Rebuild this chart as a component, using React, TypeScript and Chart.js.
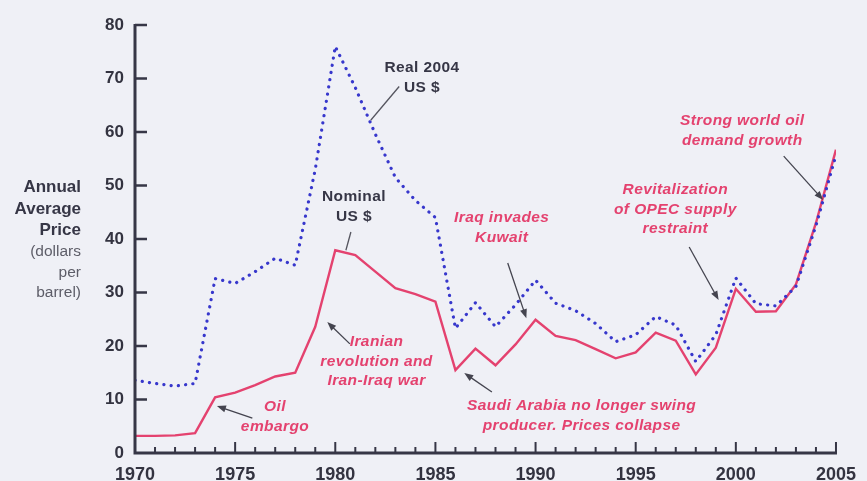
import React, { useEffect, useRef } from "react";
import { Chart, registerables } from "chart.js";

Chart.register(...registerables);

// ---------- data ----------
const years = [
  1970, 1971, 1972, 1973, 1974, 1975, 1976, 1977, 1978, 1979,
  1980, 1981, 1982, 1983, 1984, 1985, 1986, 1987, 1988, 1989,
  1990, 1991, 1992, 1993, 1994, 1995, 1996, 1997, 1998, 1999,
  2000, 2001, 2002, 2003, 2004, 2005,
];
const nominalPrice = [
  3.2, 3.2, 3.3, 3.7, 10.4, 11.3, 12.7, 14.3, 15.0, 23.6,
  37.9, 37.0, 33.9, 30.8, 29.7, 28.3, 15.5, 19.5, 16.4, 20.3,
  24.9, 21.9, 21.1, 19.4, 17.7, 18.8, 22.5, 21.0, 14.7, 19.7,
  30.7, 26.4, 26.5, 31.5, 43.0, 56.7,
];
const realPrice = [
  13.6, 13.0, 12.5, 13.0, 32.6, 31.7, 33.9, 36.4, 35.1, 53.0,
  76.0, 68.3, 59.6, 51.5, 47.2, 44.0, 23.3, 28.1, 23.6, 27.7,
  32.3, 28.0, 26.6, 24.2, 20.8, 22.1, 25.5, 23.9, 17.1, 22.1,
  32.7, 27.9, 27.5, 31.1, 42.5, 55.7,
];
const yTickValues = [0, 10, 20, 30, 40, 50, 60, 70, 80];
const xLabelYears = [1970, 1975, 1980, 1985, 1990, 1995, 2000, 2005];
const yTitleBold = ["Annual", "Average", "Price"];
const yTitleUnit = ["(dollars", "per", "barrel)"];

// ---------- style ----------
const PINK = "#e4426f";
const BLUE = "#3737cc";
const INK = "#363646";
const FAMILY = "'Liberation Sans', Arial, Helvetica, sans-serif";

type Note = {
  lines: string[];
  at: [number, number]; // (year, value) of first line centre
  color: string;
  bold: boolean;
  italic: boolean;
  leader?: [number, number, number, number]; // from (year,value) to (year,value)
  head?: boolean;
};

const notes: Note[] = [
  { lines: ["Real 2004", "US $"], at: [1984.33, 71.96], color: INK, bold: true, italic: false,
    leader: [1983.19, 68.5, 1981.77, 62.2], head: false },
  { lines: ["Nominal", "US $"], at: [1980.93, 47.85], color: INK, bold: true, italic: false,
    leader: [1980.78, 41.3, 1980.53, 37.9], head: false },
  { lines: ["Iranian", "revolution and", "Iran-Iraq war"], at: [1982.06, 20.75], color: PINK, bold: true, italic: true,
    leader: [1980.73, 20.4, 1979.6, 24.5], head: true },
  { lines: ["Oil", "embargo"], at: [1976.99, 8.6], color: PINK, bold: true, italic: true,
    leader: [1975.86, 6.54, 1974.09, 8.79], head: true },
  { lines: ["Iraq invades", "Kuwait"], at: [1988.31, 43.93], color: PINK, bold: true, italic: true,
    leader: [1988.61, 35.5, 1989.54, 25.2], head: true },
  { lines: ["Saudi Arabia no longer swing", "producer. Prices collapse"], at: [1992.3, 8.79], color: PINK, bold: true, italic: true,
    leader: [1987.82, 11.4, 1986.44, 14.95], head: true },
  { lines: ["Revitalization", "of OPEC supply", "restraint"], at: [1996.98, 49.16], color: PINK, bold: true, italic: true,
    leader: [1997.67, 38.5, 1999.14, 28.6], head: true },
  { lines: ["Strong world oil", "demand growth"], at: [2000.32, 62.06], color: PINK, bold: true, italic: true,
    leader: [2002.39, 55.5, 2004.36, 47.3], head: true },
];

const decorPlugin = {
  id: "decor",
  afterDatasetsDraw(chart: any) {
    const { ctx, chartArea, scales } = chart;
    const xs = scales.x;
    const ys = scales.y;
    const { left, bottom } = chartArea;
    ctx.save();

    // axes
    ctx.strokeStyle = INK;
    ctx.lineCap = "butt";
    ctx.lineWidth = 3;
    ctx.beginPath();
    ctx.moveTo(left, ys.getPixelForValue(80) - 1);
    ctx.lineTo(left, bottom + 1.5);
    ctx.moveTo(left - 1.5, bottom);
    ctx.lineTo(xs.getPixelForValue(2005) + 1, bottom);
    ctx.stroke();

    // x ticks (inside, upward)
    ctx.lineWidth = 2;
    ctx.beginPath();
    for (const yr of years) {
      if (yr === 1970) continue;
      const px = xs.getPixelForValue(yr);
      const len = yr % 5 === 0 ? 11 : 6;
      ctx.moveTo(px, bottom);
      ctx.lineTo(px, bottom - len);
    }
    ctx.stroke();

    // y ticks (inside, rightward)
    ctx.lineWidth = 2.5;
    ctx.beginPath();
    for (const v of yTickValues) {
      if (v === 0) continue;
      const py = ys.getPixelForValue(v);
      ctx.moveTo(left, py);
      ctx.lineTo(left + 12, py);
    }
    ctx.stroke();

    // y-axis title
    ctx.textAlign = "right";
    ctx.textBaseline = "alphabetic";
    const tx = left - 54;
    ctx.fillStyle = INK;
    ctx.font = `bold 17px ${FAMILY}`;
    yTitleBold.forEach((t, i) => ctx.fillText(t, tx, 192 + i * 21.5));
    ctx.fillStyle = "#5d5d68";
    ctx.font = `15.5px ${FAMILY}`;
    yTitleUnit.forEach((t, i) => ctx.fillText(t, tx, 256 + i * 20.5));

    // annotations
    for (const n of notes) {
      if (n.leader) {
        const [x1, y1, x2, y2] = n.leader;
        const ax = xs.getPixelForValue(x1), ay = ys.getPixelForValue(y1);
        const bx = xs.getPixelForValue(x2), by = ys.getPixelForValue(y2);
        ctx.strokeStyle = n.head ? "#44444f" : "#55555f";
        ctx.lineWidth = 1.3;
        const ang = Math.atan2(by - ay, bx - ax);
        const hl = n.head ? 9 : 0;
        ctx.beginPath();
        ctx.moveTo(ax, ay);
        ctx.lineTo(bx - Math.cos(ang) * hl * 0.8, by - Math.sin(ang) * hl * 0.8);
        ctx.stroke();
        if (n.head) {
          ctx.fillStyle = "#44444f";
          ctx.beginPath();
          ctx.moveTo(bx, by);
          ctx.lineTo(bx - Math.cos(ang) * hl + Math.sin(ang) * 3.5, by - Math.sin(ang) * hl - Math.cos(ang) * 3.5);
          ctx.lineTo(bx - Math.cos(ang) * hl - Math.sin(ang) * 3.5, by - Math.sin(ang) * hl + Math.cos(ang) * 3.5);
          ctx.closePath();
          ctx.fill();
        }
      }
      ctx.fillStyle = n.color;
      ctx.textAlign = "center";
      ctx.textBaseline = "middle";
      ctx.font = `${n.italic ? "italic " : ""}${n.bold ? "bold " : ""}15.5px ${FAMILY}`;
      try { (ctx as any).letterSpacing = "0.4px"; } catch (e) {}
      const cx = xs.getPixelForValue(n.at[0]);
      const cy = ys.getPixelForValue(n.at[1]);
      n.lines.forEach((t, i) => ctx.fillText(t, cx, cy + i * 19.3));
      try { (ctx as any).letterSpacing = "0px"; } catch (e) {}
    }
    ctx.restore();
  },
};

export default function App() {
  const canvasRef = useRef<HTMLCanvasElement | null>(null);

  useEffect(() => {
    if (!canvasRef.current) return;
    const chart = new Chart(canvasRef.current, {
      type: "line",
      data: {
        datasets: [
          {
            label: "Real 2004 US $",
            data: years.map((yr, i) => ({ x: yr, y: realPrice[i] })),
            borderColor: BLUE,
            borderWidth: 3.2,
            borderDash: [0.1, 7.2],
            borderCapStyle: "round",
            pointRadius: 0,
            tension: 0,
            fill: false,
          },
          {
            label: "Nominal US $",
            data: years.map((yr, i) => ({ x: yr, y: nominalPrice[i] })),
            borderColor: PINK,
            borderWidth: 2.4,
            borderJoinStyle: "miter",
            pointRadius: 0,
            tension: 0,
            fill: false,
          },
        ],
      },
      options: {
        animation: false,
        responsive: false,
        devicePixelRatio: 1,
        layout: { padding: { left: 95, top: 25, right: 21, bottom: 0 } },
        plugins: { legend: { display: false }, tooltip: { enabled: false } },
        scales: {
          x: {
            type: "linear",
            min: 1970,
            max: 2005,
            afterFit: (s: any) => { s.height = 28; },
            afterBuildTicks: (s: any) => { s.ticks = xLabelYears.map((v) => ({ value: v })); },
            grid: { display: false, drawTicks: false },
            border: { display: false },
            ticks: {
              autoSkip: false,
              maxRotation: 0,
              padding: 11,
              color: "#333340",
              font: { family: FAMILY, size: 18, weight: "bold" },
              callback: (v: any) => String(v),
            },
          },
          y: {
            type: "linear",
            min: 0,
            max: 80,
            afterFit: (s: any) => { s.width = 40; },
            afterBuildTicks: (s: any) => { s.ticks = yTickValues.map((v) => ({ value: v })); },
            grid: { display: false, drawTicks: false },
            border: { display: false },
            ticks: {
              padding: 11,
              color: "#333340",
              font: { family: FAMILY, size: 17, weight: "bold" },
              callback: (v: any) => String(v),
            },
          },
        },
      } as any,
      plugins: [decorPlugin],
    });
    return () => chart.destroy();
  }, []);

  return (
    <div style={{ position: "fixed", left: 0, top: 0, width: 867, height: 481, background: "#eff0f6" }}>
      <canvas ref={canvasRef} width={867} height={481} style={{ display: "block" }} />
    </div>
  );
}
